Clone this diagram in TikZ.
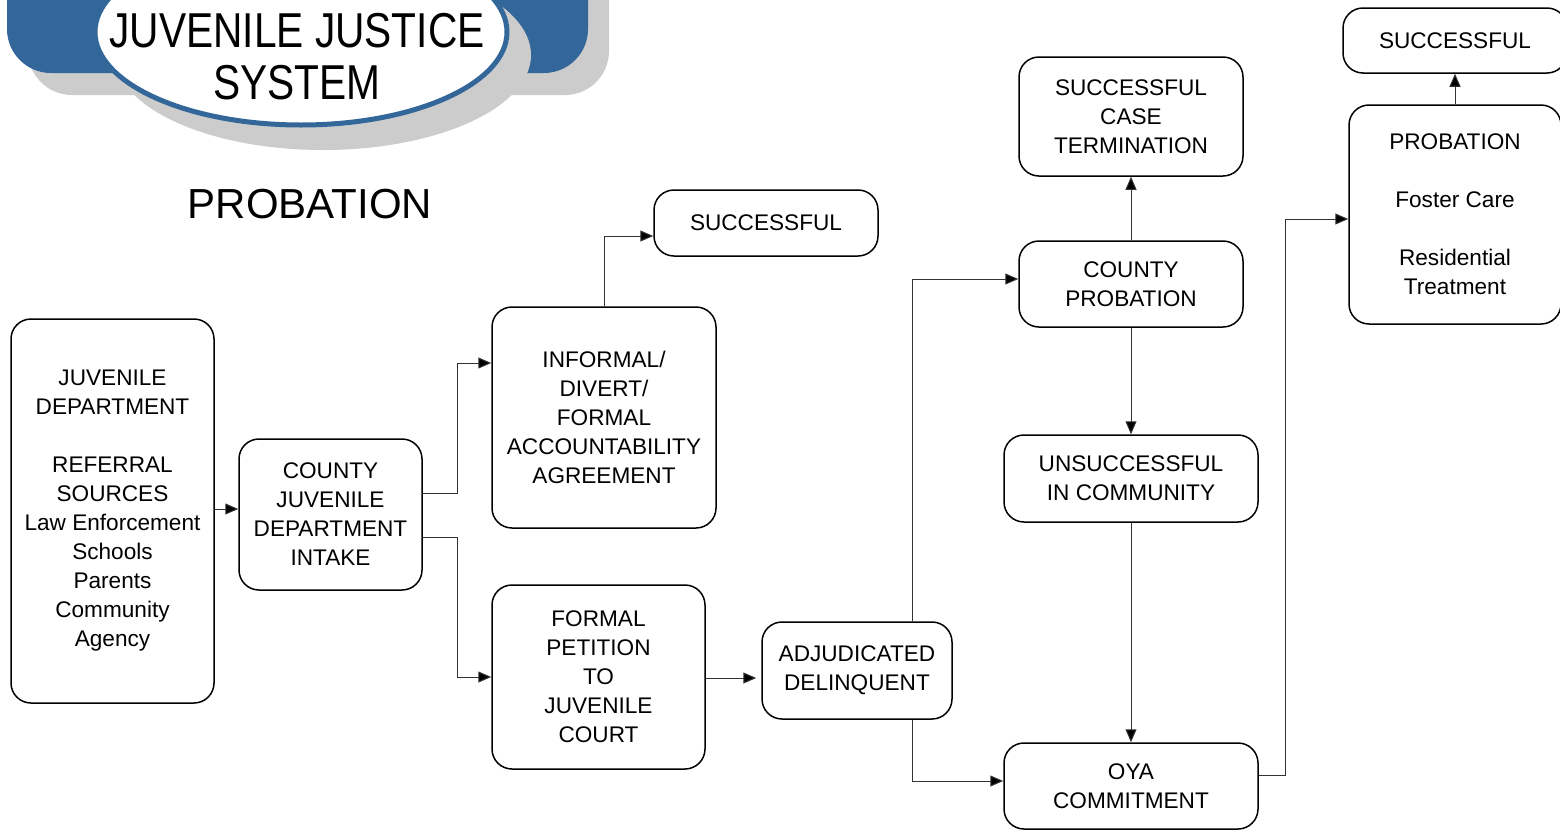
\documentclass[tikz,border=0pt]{standalone}
\usepackage{fontspec}
\setmainfont{Liberation Sans}
\newfontfamily\titlefont[FakeStretch=0.83]{Liberation Sans}
\usetikzlibrary{arrows.meta}
\definecolor{jblue}{HTML}{336699}
\definecolor{jgray}{HTML}{CCCCCC}
\begin{document}
\begin{tikzpicture}[x=0.5pt,y=-0.5pt,
  box/.style={draw, line width=0.75pt, rounded corners=10pt, align=center, inner sep=0pt,
    font=\fontsize{11.3}{14.5}\selectfont, fill=white},
  conn/.style={line width=0.5pt, draw=black!80, -{Triangle[length=6.5pt,width=5.5pt,fill=black]}},
]
\useasboundingbox[fill=white] (0,0) rectangle (1560,831);
% title graphic
\fill[jgray, rounded corners=22pt] (28,-58) rectangle (609,95);
\fill[jblue, rounded corners=22pt] (7,-80) rectangle (588,73);
\fill[jgray] (323,55) ellipse [x radius=208, y radius=95];
\draw[jblue, line width=2.5pt, fill=white] (301,32) ellipse [x radius=206, y radius=93];
\node[font=\titlefont\fontsize{24.5}{26}\selectfont, align=center] (title) at (297,57) {JUVENILE JUSTICE\\SYSTEM};
\node[font=\fontsize{21}{24}\selectfont] (prob) at (310,204) {PROBATION};

% boxes
\node[box, minimum width=101.5pt, minimum height=192pt] (jd) at (112.5,511)
  {JUVENILE\\DEPARTMENT\\[14.5pt]REFERRAL\\SOURCES\\Law Enforcement\\Schools\\Parents\\Community\\Agency};
\node[box, minimum width=91.5pt, minimum height=75.5pt] (intake) at (330.5,514.5)
  {COUNTY\\JUVENILE\\DEPARTMENT\\INTAKE};
\node[box, minimum width=112pt, minimum height=110.5pt] (informal) at (604,417.5)
  {INFORMAL/\\DIVERT/\\FORMAL\\ACCOUNTABILITY\\AGREEMENT};
\node[box, minimum width=112pt, minimum height=33pt] (succa) at (766,223) {SUCCESSFUL};
\node[box, minimum width=106.5pt, minimum height=92pt] (formal) at (598.5,677)
  {FORMAL\\PETITION\\TO\\JUVENILE\\COURT};
\node[box, minimum width=95pt, minimum height=48.5pt] (adj) at (857,670.5)
  {ADJUDICATED\\DELINQUENT};
\node[box, minimum width=112pt, minimum height=59.5pt] (sct) at (1131,116.5)
  {SUCCESSFUL\\CASE\\TERMINATION};
\node[box, minimum width=112pt, minimum height=43pt] (cp) at (1131,284)
  {COUNTY\\PROBATION};
\node[box, minimum width=127pt, minimum height=43.5pt] (unsucc) at (1131,478.5)
  {UNSUCCESSFUL\\IN COMMUNITY};
\node[box, minimum width=127pt, minimum height=43pt] (oya) at (1131,786)
  {OYA\\COMMITMENT};
\node[box, minimum width=106pt, minimum height=109.5pt] (probbox) at (1455,214.5)
  {PROBATION\\[14.5pt]Foster Care\\[14.5pt]Residential\\Treatment};
\node[box, minimum width=112pt, minimum height=32.5pt] (succb) at (1455,40.5) {SUCCESSFUL};

% connectors
\draw[conn] (jd.east |- 0,509) -- (intake.west |- 0,509);
\draw[conn] (intake.east |- 0,493) -- (457,493) |- (informal.west |- 0,363);
\draw[conn] (intake.east |- 0,537) -- (457,537) |- (formal.west);
\draw[conn] (informal.north) |- (succa.west |- 0,236);
\draw[conn] (formal.east |- 0,678) -- ([xshift=-2.5pt]adj.west |- 0,678);
\draw[conn] (adj.north -| 912,0) |- (cp.west |- 0,279);
\draw[conn] (adj.south -| 912,0) |- (oya.west |- 0,781);
\draw[conn] (cp.north) -- (sct.south);
\draw[conn] (cp.south) -- (unsucc.north);
\draw[conn] (unsucc.south) -- (oya.north);
\draw[conn] (oya.east |- 0,775) -- (1285,775) |- (probbox.west |- 0,219);
\draw[conn] (probbox.north) -- (succb.south);
\end{tikzpicture}
\end{document}
